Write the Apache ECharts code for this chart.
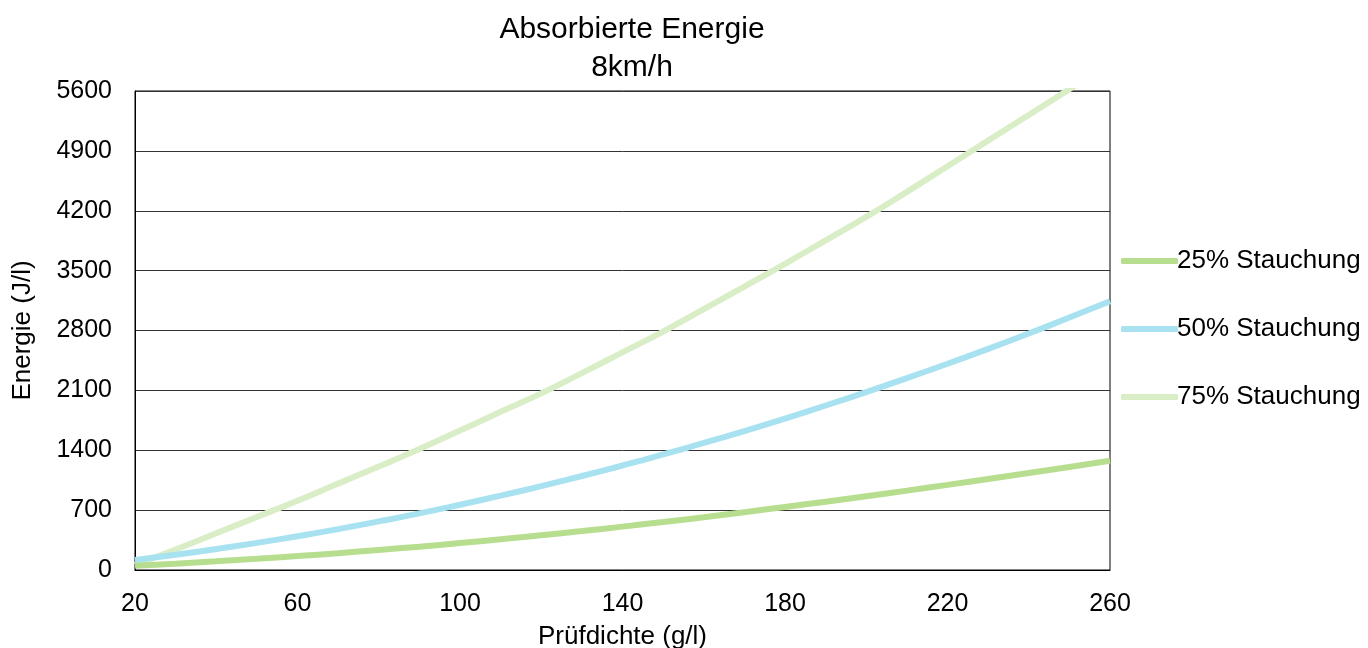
<!DOCTYPE html>
<html>
<head>
<meta charset="utf-8">
<script src="https://cdn.jsdelivr.net/npm/echarts@6/dist/echarts.min.js"></script>
<style>
html,body{margin:0;padding:0;background:#fff;}
#chart{width:1368px;height:648px;}
</style>
</head>
<body>
<div id="chart"></div>
<script>
const titleText = 'Absorbierte Energie';
const subtitleText = '8km/h';
const xAxisName = 'Prüfdichte (g/l)';
const yAxisName = 'Energie (J/l)';
const seriesNames = ['25% Stauchung', '50% Stauchung', '75% Stauchung'];
const density = [20, 30, 40, 50, 60, 70, 80, 90, 100, 110, 120, 130, 140, 150, 160, 170, 180, 190, 200, 210, 220, 230, 240, 250, 260];
const energy25 = [50, 74, 101, 131, 163, 197, 234, 273, 315, 359, 406, 455, 507, 561, 617, 676, 737, 799, 863, 928, 995, 1064, 1134, 1205, 1277];
const energy50 = [117, 178, 245, 317, 395, 478, 568, 662, 763, 869, 981, 1099, 1222, 1351, 1485, 1625, 1771, 1923, 2080, 2243, 2411, 2585, 2765, 2951, 3142];
const energy75 = [60, 240, 430, 620, 810, 1010, 1210, 1415, 1630, 1850, 2065, 2302, 2545, 2788, 3050, 3313, 3580, 3854, 4128, 4421, 4720, 5020, 5320, 5621, 5930];
const xTicks = {min: 20, max: 260, interval: 40};
const yTicks = {min: 0, max: 5600, interval: 700};

const colors = ['#b7de8f', '#a8e2f1', '#d9eec6'];
const font = '"Liberation Sans", Arial, sans-serif';

function pairs(ys) { return density.map((x, i) => [x, ys[i]]); }

const chart = echarts.init(document.getElementById('chart'), null, {renderer: 'canvas'});
chart.setOption({
  animation: false,
  backgroundColor: '#ffffff',
  textStyle: {fontFamily: font, color: '#000'},
  title: {
    text: titleText + '\n' + subtitleText,
    left: 627,
    top: 6,
    textAlign: 'center',
    textStyle: {fontFamily: font, fontSize: 30, fontWeight: 'normal', color: '#000', lineHeight: 38}
  },
  legend: {
    orient: 'vertical',
    left: 1116,
    top: 243,
    itemWidth: 57,
    itemHeight: 6,
    itemGap: 42,
    icon: 'roundRect',
    data: seriesNames,
    textStyle: {fontFamily: font, fontSize: 26, color: '#000', padding: [0, 0, 0, -6], lineHeight: 26}
  },
  grid: {
    left: 135, right: 258, top: 91, bottom: 78,
    outerBoundsMode: 'none',
    containLabel: false,
    show: true, borderColor: '#000', borderWidth: 1, backgroundColor: 'transparent'
  },
  xAxis: {
    type: 'value',
    min: xTicks.min, max: xTicks.max, interval: xTicks.interval,
    name: xAxisName, nameLocation: 'middle', nameGap: 54,
    nameTextStyle: {fontFamily: font, fontSize: 26, color: '#000'},
    axisLine: {show: true, lineStyle: {color: '#000', width: 1}},
    axisTick: {show: false},
    splitLine: {show: false},
    axisLabel: {fontFamily: font, fontSize: 25, color: '#000', margin: 22}
  },
  yAxis: {
    type: 'value',
    min: yTicks.min, max: yTicks.max, interval: yTicks.interval,
    name: yAxisName, nameLocation: 'middle', nameGap: 99, nameRotate: 90,
    nameTextStyle: {fontFamily: font, fontSize: 26, color: '#000'},
    axisLine: {show: true, lineStyle: {color: '#000', width: 1}},
    axisTick: {show: false},
    splitLine: {show: true, lineStyle: {color: '#333', width: 1}},
    axisLabel: {fontFamily: font, fontSize: 25, color: '#000', margin: 23, formatter: v => String(v)}
  },
  series: [
    {name: seriesNames[0], type: 'line', data: pairs(energy25), smooth: true, showSymbol: false, symbol: 'none', clip: true, z: 3,
     lineStyle: {color: colors[0], width: 6}, itemStyle: {color: colors[0]}},
    {name: seriesNames[1], type: 'line', data: pairs(energy50), smooth: true, showSymbol: false, symbol: 'none', clip: true, z: 2,
     lineStyle: {color: colors[1], width: 6}, itemStyle: {color: colors[1]}},
    {name: seriesNames[2], type: 'line', data: pairs(energy75), smooth: true, showSymbol: false, symbol: 'none', clip: true, z: 1,
     lineStyle: {color: colors[2], width: 6}, itemStyle: {color: colors[2]}}
  ]
});
</script>
</body>
</html>
